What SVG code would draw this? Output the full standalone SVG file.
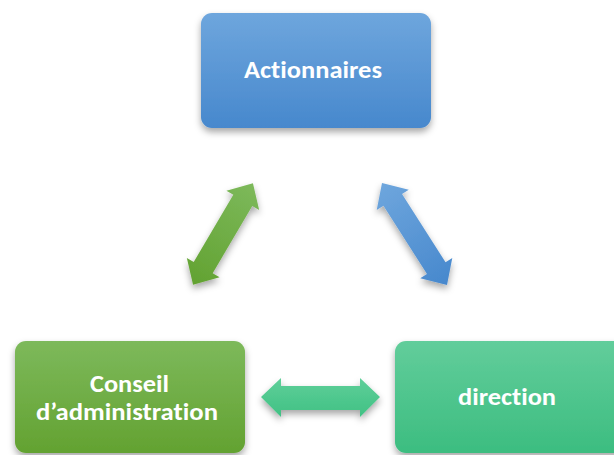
<svg xmlns="http://www.w3.org/2000/svg" width="614" height="455" viewBox="0 0 614 455">
  <defs>
    <linearGradient id="gBlue" x1="0" y1="0" x2="0" y2="1">
      <stop offset="0" stop-color="#6ea6dd"/>
      <stop offset="1" stop-color="#4788cd"/>
    </linearGradient>
    <linearGradient id="gGreen" x1="0" y1="0" x2="0" y2="1">
      <stop offset="0" stop-color="#7db95b"/>
      <stop offset="1" stop-color="#63a231"/>
    </linearGradient>
    <linearGradient id="gTeal" x1="0" y1="0" x2="0" y2="1">
      <stop offset="0" stop-color="#62cd9b"/>
      <stop offset="1" stop-color="#3cbd80"/>
    </linearGradient>
    <linearGradient id="aGreen" x1="0" y1="0" x2="1" y2="0">
      <stop offset="0" stop-color="#62a231"/>
      <stop offset="1" stop-color="#7db95b"/>
    </linearGradient>
    <linearGradient id="aBlue" x1="0" y1="0" x2="1" y2="0">
      <stop offset="0" stop-color="#6ea6dd"/>
      <stop offset="1" stop-color="#4788cd"/>
    </linearGradient>
    <linearGradient id="aTeal" x1="0" y1="0" x2="0" y2="1">
      <stop offset="0" stop-color="#5fcf99"/>
      <stop offset="1" stop-color="#40c184"/>
    </linearGradient>
    <filter id="shadow" x="-20%" y="-20%" width="140%" height="150%">
      <feDropShadow dx="0" dy="4" stdDeviation="3.5" flood-color="#000" flood-opacity="0.35"/>
    </filter>
  </defs>
  <style>
    .lbl { font-family: Carlito, "Liberation Sans", Arial, sans-serif; font-weight: bold; font-size: 24px; fill: #ffffff; text-anchor: middle; font-variant-ligatures: none; font-feature-settings: "liga" 0, "clig" 0; }
  </style>
  <rect width="614" height="455" fill="#ffffff"/>

  <g id="connectors">
    <g filter="url(#shadow)">
      <g transform="translate(223,234) rotate(-59.5)">
        <path d="M -59 0 L -39 -19 L -39 -11 L 39 -11 L 39 -19 L 59 0 L 39 19 L 39 11 L -39 11 L -39 19 Z" fill="url(#aGreen)"/>
      </g>
    </g>
    <g filter="url(#shadow)">
      <g transform="translate(414.5,234) rotate(57.5)">
        <path d="M -60.5 0 L -40.5 -19 L -40.5 -11 L 40.5 -11 L 40.5 -19 L 60.5 0 L 40.5 19 L 40.5 11 L -40.5 11 L -40.5 19 Z" fill="url(#aBlue)"/>
      </g>
    </g>
    <g filter="url(#shadow)">
      <path d="M 261 397 L 281 378 L 281 386 L 360 386 L 360 378 L 380 397 L 360 417 L 360 410 L 281 410 L 281 417 Z" fill="url(#aTeal)"/>
    </g>
  </g>

  <g id="actionnaires">
    <rect x="201" y="13" width="230" height="115" rx="11" fill="url(#gBlue)" filter="url(#shadow)"/>
    <text class="lbl" x="313" y="78" textLength="138" lengthAdjust="spacingAndGlyphs">Actionnaires</text>
  </g>

  <g id="conseil">
    <rect x="15" y="341" width="230" height="112" rx="11" fill="url(#gGreen)" filter="url(#shadow)"/>
    <text class="lbl" x="129.5" y="392" textLength="79" lengthAdjust="spacingAndGlyphs">Conseil</text>
    <text class="lbl" x="127" y="420" textLength="182" lengthAdjust="spacingAndGlyphs">d’administration</text>
  </g>

  <g id="direction">
    <rect x="395" y="341" width="232" height="112" rx="11" fill="url(#gTeal)" filter="url(#shadow)"/>
    <text class="lbl" x="507" y="405" textLength="98" lengthAdjust="spacingAndGlyphs">direction</text>
  </g>
</svg>
